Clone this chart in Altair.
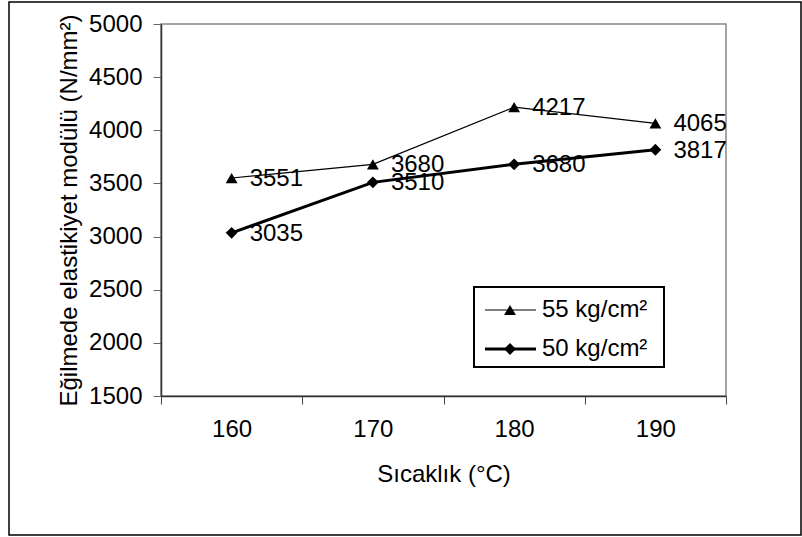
import altair as alt
import pandas as pd

temps = [160, 170, 180, 190]
series_55 = [3551, 3680, 4217, 4065]
series_50 = [3035, 3510, 3680, 3817]
series_names = ["55 kg/cm²", "50 kg/cm²"]
series_shapes = ["triangle-up", "diamond"]
series_widths = [1.2, 3.0]
y_ticks = [1500, 2000, 2500, 3000, 3500, 4000, 4500, 5000]
x_ticks = [155, 160, 165, 170, 175, 180, 185, 190, 195]
x_title = "Sıcaklık (°C)"
y_title = "Eğilmede elastikiyet modülü (N/mm²)"

FONT = "Liberation Sans"
FS = 24

df = pd.DataFrame({
    "temp": temps * 2,
    "value": series_55 + series_50,
    "series": [series_names[0]] * len(temps) + [series_names[1]] * len(temps),
})

x_enc = alt.X(
    "temp:Q",
    scale=alt.Scale(domain=[155, 195], nice=False, zero=False),
    axis=alt.Axis(
        values=x_ticks,
        labelExpr="datum.value % 10 == 0 ? datum.label : ''",
        tickOpacity={"condition": {"test": "datum.value % 10 == 5", "value": 1}, "value": 0},
        labelOverlap=False,
        grid=False,
        tickSize=8,
        tickColor="#444",
        domainColor="#333",
        domainWidth=1.5,
        labelFont=FONT,
        labelFontSize=FS,
        labelColor="black",
        labelPadding=13,
        title=x_title,
        titleFont=FONT,
        titleFontSize=FS,
        titleFontWeight="normal",
        titleColor="black",
        titlePadding=21,
    ),
)
y_enc = alt.Y(
    "value:Q",
    scale=alt.Scale(domain=[1500, 5000], nice=False, zero=False),
    axis=alt.Axis(
        values=y_ticks,
        format="d",
        grid=False,
        tickSize=8,
        tickColor="#666",
        domainColor="#333",
        domainWidth=1.5,
        labelFont=FONT,
        labelFontSize=FS,
        labelColor="black",
        labelPadding=11,
        title=y_title,
        titleFont=FONT,
        titleFontSize=FS,
        titleFontWeight="normal",
        titleColor="black",
        titlePadding=7,
    ),
)

base = alt.Chart(df)

lines = base.mark_line(color="black").encode(
    x=x_enc,
    y=y_enc,
    detail="series:N",
    strokeWidth=alt.StrokeWidth(
        "series:N", scale=alt.Scale(domain=series_names, range=series_widths), legend=None
    ),
)

points = base.mark_point(filled=True, color="black", size=140, opacity=1).encode(
    x="temp:Q",
    y="value:Q",
    shape=alt.Shape(
        "series:N", scale=alt.Scale(domain=series_names, range=series_shapes), legend=None
    ),
)

labels = base.mark_text(
    align="left", baseline="middle", dx=18, dy=1, font=FONT, fontSize=FS, color="black"
).encode(
    x="temp:Q",
    y="value:Q",
    text=alt.Text("value:Q", format="d"),
)

one = alt.Data(values=[{}])

outer = alt.Chart(one).mark_rect(filled=False, stroke="black", strokeWidth=1.5).encode(
    x=alt.value(-152), x2=alt.value(640), y=alt.value(-22), y2=alt.value(511)
)

legend_box = alt.Chart(one).mark_rect(filled=False, stroke="black", strokeWidth=2).encode(
    x=alt.value(313), x2=alt.value(503), y=alt.value(263), y2=alt.value(343)
)

legend_layers = []
row_y = [286, 325]
for name, shape, w, yy in zip(series_names, series_shapes, series_widths, row_y):
    legend_layers.append(
        alt.Chart(one).mark_rule(color="black", strokeWidth=w).encode(
            x=alt.value(324), x2=alt.value(375), y=alt.value(yy)
        )
    )
    legend_layers.append(
        alt.Chart(one).mark_point(filled=True, color="black", size=140, opacity=1, shape=shape).encode(
            x=alt.value(349), y=alt.value(yy)
        )
    )
    legend_layers.append(
        alt.Chart(one).mark_text(
            align="left", baseline="middle", font=FONT, fontSize=FS, color="black", text=name
        ).encode(x=alt.value(381), y=alt.value(yy))
    )

chart = alt.layer(outer, lines, points, labels, legend_box, *legend_layers).properties(
    width=565,
    height=372,
    autosize=alt.AutoSizeParams(type="none"),
    padding={"left": 161, "top": 24, "right": 76, "bottom": 141},
    background="white",
).configure_view(stroke="#888", strokeWidth=1.5)

chart.save("out.html", embed_options={"renderer": "svg", "actions": False})
